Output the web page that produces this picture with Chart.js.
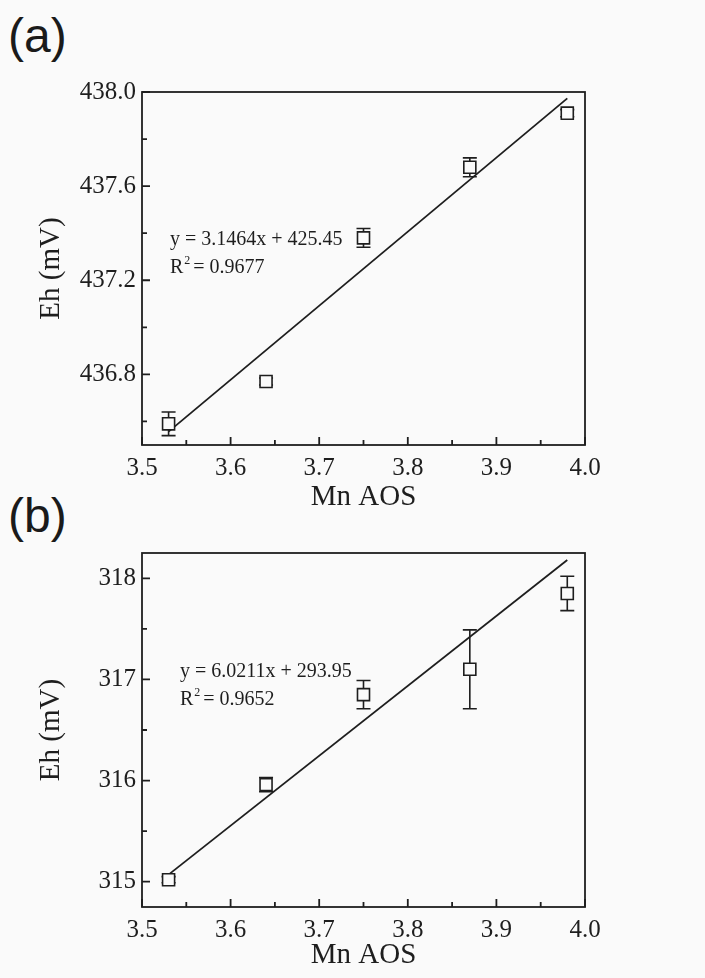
<!DOCTYPE html>
<html>
<head>
<meta charset="utf-8">
<script src="https://cdn.jsdelivr.net/npm/chart.js@4/dist/chart.umd.min.js"></script>
<style>
  body { margin: 0; background: #fafafa; width: 705px; height: 978px; position: relative; overflow: hidden; }
  .panel { position: absolute; left: 0; width: 705px; }
  .tag { position: absolute; left: 8px; font-family: "Liberation Sans", Arial, sans-serif; font-size: 48px; color: #1a1a1a; }
</style>
</head>
<body>
<div class="tag" style="top: 8px;">(a)</div>
<div class="tag" style="top: 488px;">(b)</div>
<div class="panel" style="top: 0; height: 520px;"><canvas id="chartA" width="705" height="520"></canvas></div>
<div class="panel" style="top: 520px; height: 458px;"><canvas id="chartB" width="705" height="458"></canvas></div>
<script>
// Mn AOS values (shared x)
const mnAos = [3.53, 3.64, 3.75, 3.87, 3.98];

// panel (a)
const ehA = [436.59, 436.77, 437.38, 437.68, 437.91];
const errA = [0.05, 0.015, 0.04, 0.04, 0.015];
const fitXA = [3.53, 3.98];
const fitYA = [436.557, 437.973];
const yMajorA = [436.8, 437.2, 437.6, 438.0];
const yMinorA = [436.6, 437.0, 437.4, 437.8];
const eqA = ['y = 3.1464x + 425.45', '0.9677'];

// panel (b)
const ehB = [315.02, 315.96, 316.85, 317.10, 317.85];
const errB = [0.03, 0.07, 0.14, 0.39, 0.17];
const fitXB = [3.53, 3.98];
const fitYB = [315.07, 318.18];
const yMajorB = [315, 316, 317, 318];
const yMinorB = [315.5, 316.5, 317.5];
const eqB = ['y = 6.0211x + 293.95', '0.9652'];

// x axis ticks
const xMajor = [3.5, 3.6, 3.7, 3.8, 3.9, 4.0];
const xMinor = [3.55, 3.65, 3.75, 3.85, 3.95];

const ink = '#1e1e1e';
const serif = '"Liberation Serif", "Times New Roman", serif';

// frame + inward ticks + error bars + equation
const decor = {
  id: 'decor',
  beforeDatasetsDraw(chart, args, opts) {
    const ctx = chart.ctx;
    const x = chart.scales.x, y = chart.scales.y;
    ctx.save();
    ctx.strokeStyle = ink;
    ctx.lineWidth = 1.6;
    opts.values.forEach((v, i) => {
      const px = x.getPixelForValue(opts.xs[i]);
      const top = y.getPixelForValue(v + opts.errors[i]);
      const bot = y.getPixelForValue(v - opts.errors[i]);
      ctx.beginPath();
      ctx.moveTo(px, top); ctx.lineTo(px, bot);
      ctx.moveTo(px - 7, top); ctx.lineTo(px + 7, top);
      ctx.moveTo(px - 7, bot); ctx.lineTo(px + 7, bot);
      ctx.stroke();
    });
    ctx.restore();
  },
  afterDraw(chart, args, opts) {
    const ctx = chart.ctx;
    const a = chart.chartArea;
    const x = chart.scales.x, y = chart.scales.y;
    ctx.save();
    ctx.strokeStyle = ink;
    ctx.lineWidth = 1.8;
    ctx.strokeRect(a.left, a.top, a.right - a.left, a.bottom - a.top);
    ctx.beginPath();
    x.ticks.forEach(t => {
      const px = x.getPixelForValue(t.value);
      const len = xMajor.includes(t.value) ? 8 : 5;
      ctx.moveTo(px, a.bottom); ctx.lineTo(px, a.bottom - len);
    });
    y.ticks.forEach(t => {
      const py = y.getPixelForValue(t.value);
      const len = opts.yMajor.includes(t.value) ? 8 : 5;
      ctx.moveTo(a.left, py); ctx.lineTo(a.left + len, py);
    });
    ctx.stroke();

    // regression text
    ctx.fillStyle = ink;
    ctx.font = '20px ' + serif;
    ctx.textBaseline = 'middle';
    const ex = a.left + opts.eqDx, ey = a.top + opts.eqDy;
    ctx.fillText(opts.eq[0], ex, ey);
    ctx.fillText('R', ex, ey + 28);
    const rw = ctx.measureText('R').width;
    ctx.font = '12px ' + serif;
    ctx.fillText('2', ex + rw + 1, ey + 21);
    ctx.font = '20px ' + serif;
    ctx.fillText(' = ' + opts.eq[1], ex + rw + 5, ey + 28);
    ctx.restore();
  }
};

function makeChart(id, vals, errs, fitX, fitY, yMin, yMax, yMajor, yMinor, eq, eqDx, eqDy, padTop, xHeight, fmt) {
  const allY = yMajor.concat(yMinor).sort((p, q) => p - q);
  const allX = xMajor.concat(xMinor).sort((p, q) => p - q);
  return new Chart(document.getElementById(id), {
    type: 'scatter',
    data: {
      datasets: [{
        data: mnAos.map((v, i) => ({ x: v, y: vals[i] })),
        pointStyle: 'rect',
        pointRadius: 8.5,
        borderColor: ink,
        borderWidth: 1.6,
        backgroundColor: '#fafafa',
        order: 1
      }, {
        type: 'line',
        data: fitX.map((v, i) => ({ x: v, y: fitY[i] })),
        borderColor: ink,
        borderWidth: 1.8,
        pointRadius: 0,
        fill: false,
        order: 2
      }]
    },
    options: {
      responsive: false,
      animation: false,
      layout: { padding: { left: 0, right: 120, top: padTop, bottom: 0 } },
      plugins: {
        legend: { display: false },
        tooltip: { enabled: false },
        decor: { values: vals, errors: errs, xs: mnAos, yMajor: yMajor, eq: eq, eqDx: eqDx, eqDy: eqDy }
      },
      scales: {
        x: {
          type: 'linear',
          min: 3.5,
          max: 4.0,
          afterBuildTicks: s => { s.ticks = allX.map(v => ({ value: v })); },
          afterFit: s => { s.height = xHeight; },
          grid: { display: false, drawTicks: false },
          border: { display: false },
          ticks: {
            padding: 8,
            color: ink,
            font: { family: serif, size: 25 },
            callback: v => xMajor.includes(v) ? v.toFixed(1) : ''
          },
          title: { display: true, text: 'Mn AOS', color: ink, font: { family: serif, size: 29 }, padding: { top: 0, bottom: 5 } }
        },
        y: {
          type: 'linear',
          min: yMin,
          max: yMax,
          afterBuildTicks: s => { s.ticks = allY.map(v => ({ value: v })); },
          afterFit: s => { s.width = 142; },
          grid: { display: false, drawTicks: false },
          border: { display: false },
          ticks: {
            padding: 6,
            color: ink,
            font: { family: serif, size: 25 },
            callback: v => yMajor.includes(v) ? fmt(v) : ''
          },
          title: { display: true, text: 'Eh (mV)', color: ink, font: { family: serif, size: 29 }, padding: { top: 34, bottom: 0 } }
        }
      }
    },
    plugins: [decor]
  });
}

makeChart('chartA', ehA, errA, fitXA, fitYA, 436.5, 438.0, yMajorA, yMinorA, eqA, 28, 148, 92, 75, v => v.toFixed(1));
makeChart('chartB', ehB, errB, fitXB, fitYB, 314.75, 318.25, yMajorB, yMinorB, eqB, 38, 119, 33, 71, v => v.toFixed(0));
</script>
</body>
</html>
